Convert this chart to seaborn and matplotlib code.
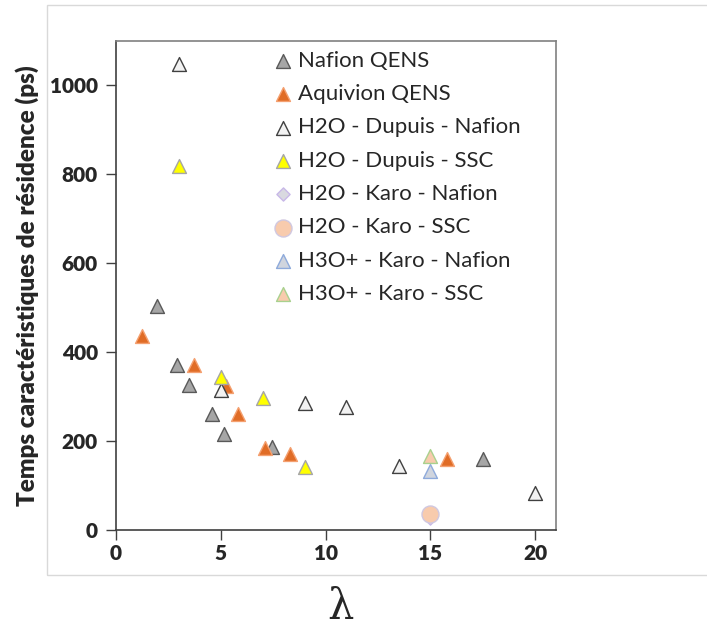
import matplotlib
matplotlib.use("Agg")
import matplotlib.pyplot as plt
from matplotlib.patches import Rectangle
import seaborn as sns
import pandas as pd

sns.set_style("white")
plt.rcParams['font.family'] = ['Lato', 'DejaVu Sans']

# ---- data ----
series_names = ["Nafion QENS", "Aquivion QENS", "H2O - Dupuis - Nafion",
                "H2O - Dupuis - SSC", "H2O - Karo - Nafion", "H2O - Karo - SSC",
                "H3O+ - Karo - Nafion", "H3O+ - Karo - SSC"]

nafion_qens_x = [1.95, 2.9, 3.5, 4.6, 5.15, 7.45, 17.5]
nafion_qens_y = [503, 372, 326, 260, 217, 186, 160]

aquivion_qens_x = [1.25, 3.7, 5.25, 5.8, 7.1, 8.3, 15.8]
aquivion_qens_y = [436, 372, 324, 260, 184, 171, 160]

h2o_dupuis_nafion_x = [3.0, 5.0, 9.0, 11.0, 13.5, 20.0]
h2o_dupuis_nafion_y = [1049, 316, 285, 277, 143, 84]

h2o_dupuis_ssc_x = [3.0, 5.0, 7.0, 9.0]
h2o_dupuis_ssc_y = [818, 345, 296, 141]

h2o_karo_nafion_x = [15.0]
h2o_karo_nafion_y = [27]

h2o_karo_ssc_x = [15.0]
h2o_karo_ssc_y = [36]

h3o_karo_nafion_x = [15.0]
h3o_karo_nafion_y = [133]

h3o_karo_ssc_x = [15.0]
h3o_karo_ssc_y = [167]

xticks = [0, 5, 10, 15, 20]
yticks = [0, 200, 400, 600, 800, 1000]

# ---- styles ----
styles = [
    dict(marker="^", color="#a6a6a6", edgecolor="#595959"),
    dict(marker="^", color="#e06c26", edgecolor="#f4a070"),
    dict(marker="^", color="#f2f2f2", edgecolor="#404040"),
    dict(marker="^", color="#ffff00", edgecolor="#a6a6a6"),
    dict(marker="D", color="#d9d9e0", edgecolor="#c8b8e8"),
    dict(marker="o", color="#f8cbad", edgecolor="#d0c8e0"),
    dict(marker="^", color="#d0d5de", edgecolor="#8eaadb"),
    dict(marker="^", color="#f8cbad", edgecolor="#a9d18e"),
]
sizes = [100, 100, 100, 100, 45, 150, 100, 100]

xs = [nafion_qens_x, aquivion_qens_x, h2o_dupuis_nafion_x, h2o_dupuis_ssc_x,
      h2o_karo_nafion_x, h2o_karo_ssc_x, h3o_karo_nafion_x, h3o_karo_ssc_x]
ys = [nafion_qens_y, aquivion_qens_y, h2o_dupuis_nafion_y, h2o_dupuis_ssc_y,
      h2o_karo_nafion_y, h2o_karo_ssc_y, h3o_karo_nafion_y, h3o_karo_ssc_y]

fig = plt.figure(figsize=(7.07, 6.33), dpi=100)
ax = fig.add_axes([116/707, 1-530/633, 440/707, 489/633])

# outer chart-area border
fig.patches.append(Rectangle((47/707, 1-575/633), 1.0, 570/633,
                             transform=fig.transFigure, fill=False,
                             edgecolor="#d9d9d9", linewidth=1.0, zorder=0))

for name, x, y, st, s in zip(series_names, xs, ys, styles, sizes):
    df = pd.DataFrame({"x": x, "y": y})
    sns.scatterplot(data=df, x="x", y="y", ax=ax, label=name, s=s,
                    marker=st["marker"], color=st["color"],
                    edgecolor=st["edgecolor"], linewidth=1.0, zorder=3)

ax.set_xlim(0, 21)
ax.set_ylim(0, 1100)
ax.set_xticks(xticks)
ax.set_yticks(yticks)
ax.set_xticklabels([str(t) for t in xticks], fontsize=15, fontweight="heavy")
ax.set_yticklabels([str(t) for t in yticks], fontsize=15, fontweight="heavy")
ax.tick_params(axis="both", direction="out", length=7, width=1, color="#404040",
               bottom=True, left=True)
ax.tick_params(axis="x", pad=3)
ax.tick_params(axis="y", pad=6)
for sp in ax.spines.values():
    sp.set_color("#808080")
    sp.set_linewidth(1.2)
ax.spines["left"].set_color("#404040")
ax.spines["bottom"].set_color("#404040")

ax.set_xlabel("")
ax.set_ylabel("Temps caractéristiques de résidence (ps)", fontsize=17.5,
              fontweight="heavy", labelpad=8)
fig.text(340/707, 1-607/633, "λ", fontsize=30, family=["DejaVu Serif"],
         ha="center", va="center")

leg = ax.legend(loc="upper left", bbox_to_anchor=(0.316, 1.012), frameon=False,
                fontsize=16, handletextpad=0.15, labelspacing=0.6,
                borderaxespad=0.3, handlelength=1.1)

fig.savefig("out.png", dpi=100)
